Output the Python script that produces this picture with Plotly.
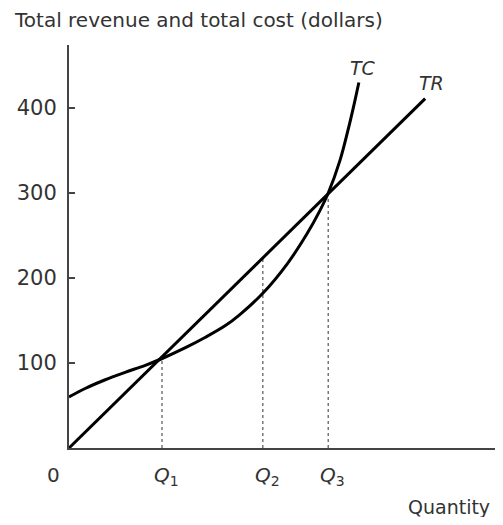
import plotly.graph_objects as go

# Data (quantity in arbitrary units, dollars on y)
tr_q = [0, 4.19]
tr_v = [0, 411]

tc_q = [0, 0.19, 0.42, 0.66, 0.89, 1.09, 1.37, 1.6, 1.84, 2.01, 2.28, 2.57, 2.8, 2.95, 3.05, 3.19, 3.28, 3.36, 3.41]
tc_v = [60, 70, 80, 89, 97, 105, 118, 130, 144, 157, 182, 217, 252, 279, 300, 339, 373, 407, 430]

q_marks = [1.094, 2.28, 3.05]
q_heights = [106, 224, 300]
q_labels = ["<i>Q</i><sub>1</sub>", "<i>Q</i><sub>2</sub>", "<i>Q</i><sub>3</sub>"]

y_ticks = [100, 200, 300, 400]

FONT = "DejaVu Sans"
TXT = "#333333"

# page body has an 8px margin: plot area is placed so it lands at x=69..503, y=45..448
OFF = 8
PL, PT, PW, PH = 69 - OFF, 45 - OFF, 434, 403
W = 503 - OFF
H = 525 - 2 * OFF

fig = go.Figure()

for q, h in zip(q_marks, q_heights):
    fig.add_trace(go.Scatter(x=[q, q], y=[0, h], mode="lines",
                             line=dict(color="#777777", width=1.5, dash="dot"),
                             hoverinfo="skip", showlegend=False))

fig.add_trace(go.Scatter(x=tc_q, y=tc_v, mode="lines",
                         line=dict(color="black", width=3, shape="spline", smoothing=1),
                         showlegend=False))
fig.add_trace(go.Scatter(x=tr_q, y=tr_v, mode="lines", line=dict(color="black", width=3),
                         showlegend=False))

def px_x(x):
    return (x - 69) / PW

def px_y(y):
    return (448 - y) / PH

annotations = [
    dict(text="Total revenue and total cost (dollars)", xref="paper", yref="paper",
         x=px_x(12), y=px_y(20), xanchor="left", yanchor="middle",
         showarrow=False, font=dict(family=FONT, size=20, color=TXT)),
    dict(text="Quantity", xref="paper", yref="paper",
         x=px_x(492), y=px_y(507), xanchor="right", yanchor="middle",
         showarrow=False, font=dict(family=FONT, size=19, color=TXT)),
    dict(text="0", xref="paper", yref="paper",
         x=px_x(53), y=px_y(475), xanchor="center", yanchor="middle",
         showarrow=False, font=dict(family=FONT, size=20, color=TXT)),
    dict(text="<i>TC</i>", x=3.46, y=447, xanchor="center", yanchor="middle",
         showarrow=False, font=dict(family=FONT, size=19, color=TXT)),
    dict(text="<i>TR</i>", x=4.26, y=429, xanchor="center", yanchor="middle",
         showarrow=False, font=dict(family=FONT, size=19, color=TXT)),
]
for q, lab in zip(q_marks, q_labels):
    annotations.append(dict(text=lab, x=q + 0.05, xref="x", yref="paper", y=px_y(476),
                            xanchor="center", yanchor="middle", showarrow=False,
                            font=dict(family=FONT, size=20, color=TXT)))

fig.update_layout(
    width=W, height=H,
    margin=dict(l=PL, r=W - PL - PW, t=PT, b=H - PT - PH, pad=0),
    paper_bgcolor="white", plot_bgcolor="white",
    annotations=annotations,
    xaxis=dict(range=[0, PW / 85], showgrid=False, zeroline=False, showline=True,
               linecolor="#444444", linewidth=2, showticklabels=False, ticks=""),
    yaxis=dict(range=[0, PH / 0.85], showgrid=False, zeroline=False, showline=True,
               linecolor="#444444", linewidth=2, tickvals=y_ticks, ticks="inside",
               ticklen=6, tickcolor="#444444", tickwidth=1.5,
               tickfont=dict(family=FONT, size=21, color=TXT), ticklabelstandoff=6),
)

fig.write_html("out.html")
